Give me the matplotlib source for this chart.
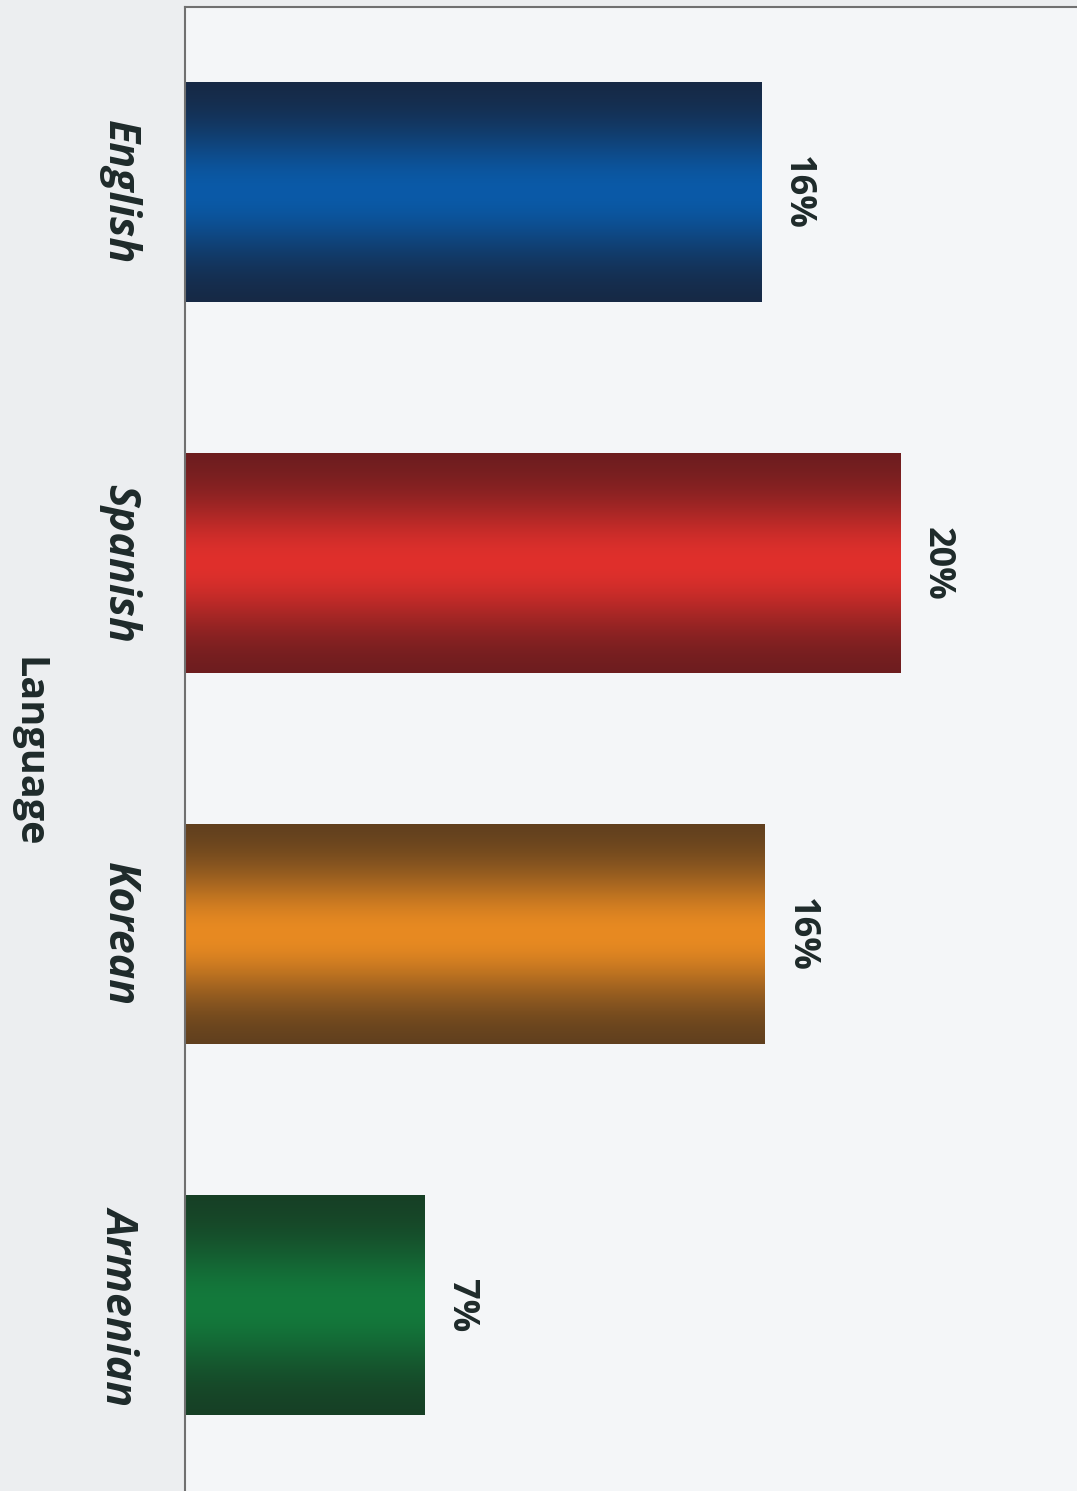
import matplotlib.pyplot as plt
import numpy as np

languages = ['English', 'Spanish', 'Korean', 'Armenian']
shares = [16.1, 20.0, 16.2, 6.7]
share_labels = ['16%', '20%', '16%', '7%']

# edge (dark) and centre (bright) colour of each bar's gradient
edge_colors = ['#17263f', '#661c1e', '#583b1e', '#173c24']
mid_colors = ['#0a5aa8', '#e0302c', '#e88a22', '#137a3c']

W, H = 1077, 1491
fig = plt.figure(figsize=(W / 100, H / 100), dpi=100)
fig.patch.set_facecolor('#eceef0')
ax = fig.add_axes([185 / W, 0, 1 - 185 / W, 1 - 7 / H])
ax.set_facecolor('#f4f6f8')

bar_h = 0.592


def to_rgb(h):
    return np.array([int(h[i:i + 2], 16) for i in (1, 3, 5)]) / 255.0


t = np.linspace(-1, 1, 200)
profile = np.exp(-(t / 0.6) ** 2)  # dark at the edges, bright in the middle

for i, (val, c0, c1) in enumerate(zip(shares, edge_colors, mid_colors)):
    e, m = to_rgb(c0), to_rgb(c1)
    img = e[None, :] + (m - e)[None, :] * profile[:, None]
    img = img[:, None, :]
    ax.imshow(img, extent=[0, val, i + bar_h / 2, i - bar_h / 2],
              aspect='auto', interpolation='bilinear', zorder=2)
    ax.text(val + 1.0, i, share_labels[i], rotation=-90, ha='center', va='center',
            fontsize=26, fontweight='bold', color='#1e2a2a', family='Open Sans')
    ax.text(-0.073, i, languages[i], transform=ax.get_yaxis_transform(),
            rotation=-90, ha='center', va='center', fontsize=31,
            fontweight='bold', fontstyle='italic', color='#1e2a2a', family='Open Sans')

fig.text(28 / W, 1 - 752 / H, 'Language', rotation=-90, ha='center', va='center',
         fontsize=28.5, fontweight='bold', color='#1e2a2a', family='Open Sans')

ax.set_xlim(0, (W - 185) / 35.8)
ax.set_ylim(3.5, -0.5)
ax.set_xticks([])
ax.set_yticks([])
for s in ['right', 'bottom']:
    ax.spines[s].set_visible(False)
for s in ['left', 'top']:
    ax.spines[s].set_color('#707070')
    ax.spines[s].set_linewidth(1.5)

fig.savefig('out.png', dpi=100, facecolor=fig.get_facecolor())
